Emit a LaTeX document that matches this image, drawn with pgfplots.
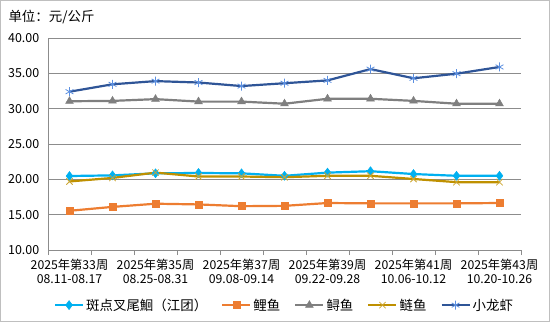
\documentclass[border=0pt]{standalone}
\usepackage{fontspec}
\setmainfont{Noto Sans CJK SC}
\usepackage{pgfplots}
\pgfplotsset{compat=1.18}
\definecolor{cBlue}{HTML}{00B0F0}
\definecolor{cOrange}{HTML}{ED7D31}
\definecolor{cGrey}{HTML}{7F7F7F}
\definecolor{cGold}{HTML}{BF9000}
\definecolor{cNavy}{HTML}{2F5597}
\definecolor{cStar}{HTML}{5B8FE0}
\definecolor{cGrid}{HTML}{8C8C8C}
\definecolor{cFrame}{HTML}{BFBFBF}
\begin{document}
\begin{tikzpicture}[x=1bp,y=1bp]
\useasboundingbox (0,0) rectangle (550,322);
\draw[cFrame, line width=1bp] (0.5,0.5) rectangle (549.5,321.5);
\node[anchor=west, font=\fontsize{13.5}{15}\selectfont] at (5,305) {单位：元/公斤};
\begin{axis}[
  at={(48bp,72bp)}, anchor=south west,
  scale only axis, width=473bp, height=212bp,
  xmin=-0.5, xmax=10.5, ymin=10, ymax=40,
  axis x line*=bottom, axis y line*=left,
  axis line style={cGrid, line width=0.8bp},
  ytick={10,15,...,40},
  ymajorgrids, grid style={cGrid, line width=0.8bp},
  /pgf/number format/fixed, /pgf/number format/fixed zerofill,
  /pgf/number format/precision=2, /pgf/number format/assume math mode=true,
  yticklabel style={font=\fontsize{12.5}{14}\selectfont, xshift=-1bp},
  ytick style={draw=none},
  xtick={0,2,...,10},
  xticklabels={{2025年第33周\\08.11-08.17},{2025年第35周\\08.25-08.31},{2025年第37周\\09.08-09.14},{2025年第39周\\09.22-09.28},{2025年第41周\\10.06-10.12},{2025年第43周\\10.20-10.26}},
  xticklabel style={align=center, font=\fontsize{12.3}{14.5}\selectfont, yshift=-1bp},
  major x tick style={draw=none},
  minor xtick={-0.5,0.5,...,10.5},
  minor x tick style={cGrid, line width=0.8bp},
  minor tick length=5bp,
  tick align=outside,
  legend columns=5,
  legend style={at={(0.5,-0.26)}, anchor=center, draw=none, fill=none,
    font=\fontsize{13.5}{15}\selectfont,
    /tikz/every even column/.append style={column sep=12bp}},
  legend image code/.code={
    \draw[mark repeat=2,mark phase=2] plot coordinates {(0bp,0bp) (14bp,0bp) (28bp,0bp)};},
  every axis plot/.append style={line width=2.2bp},
]
\addplot[cBlue, mark=diamond*, mark size=4.5bp, mark options={fill=cBlue, line width=0.5bp}] coordinates {
(0,20.47) (1,20.56) (2,20.85) (3,20.9) (4,20.85) (5,20.5) (6,20.95) (7,21.15) (8,20.75) (9,20.5) (10,20.5)};
\addlegendentry{斑点叉尾鮰（江团）}
\addplot[cOrange, mark=square*, mark size=3.5bp, mark options={fill=cOrange, line width=0.5bp}] coordinates {
(0,15.55) (1,16.1) (2,16.55) (3,16.45) (4,16.2) (5,16.25) (6,16.65) (7,16.6) (8,16.6) (9,16.6) (10,16.65)};
\addlegendentry{鲤鱼}
\addplot[cGrey, mark=triangle*, mark size=4.5bp, mark options={fill=cGrey, line width=0.5bp}] coordinates {
(0,31.05) (1,31.1) (2,31.35) (3,31.0) (4,31.0) (5,30.7) (6,31.4) (7,31.4) (8,31.1) (9,30.7) (10,30.7)};
\addlegendentry{鲟鱼}
\addplot[cGold, mark=x, mark size=4.5bp, mark options={line width=0.8bp, draw=cGold!80!white}] coordinates {
(0,19.7) (1,20.2) (2,20.95) (3,20.4) (4,20.4) (5,20.3) (6,20.5) (7,20.5) (8,20.05) (9,19.6) (10,19.6)};
\addlegendentry{鲢鱼}
\addplot[cNavy, mark=asterisk, mark size=4.5bp, mark options={line width=0.8bp, draw=cStar}] coordinates {
(0,32.4) (1,33.45) (2,33.9) (3,33.7) (4,33.2) (5,33.6) (6,34.0) (7,35.6) (8,34.3) (9,34.95) (10,35.9)};
\addlegendentry{小龙虾}
\end{axis}
\end{tikzpicture}
\end{document}
